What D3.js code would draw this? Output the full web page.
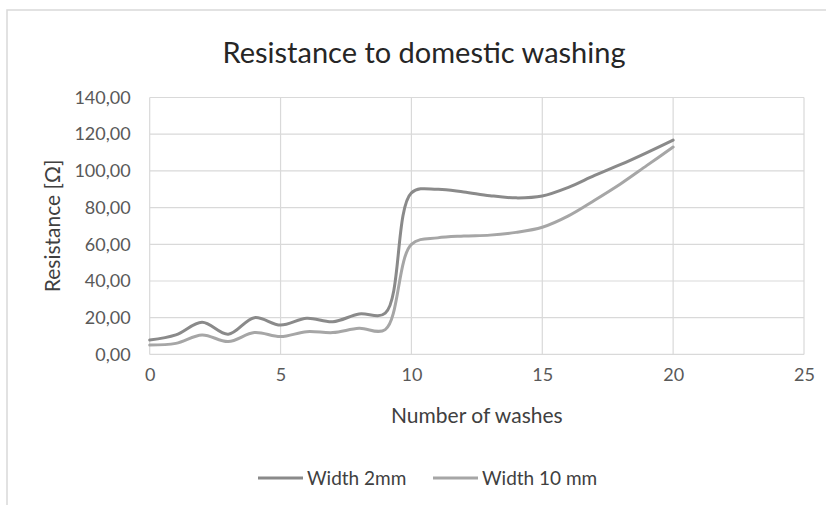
<!DOCTYPE html>
<html>
<head>
<meta charset="utf-8">
<script src="https://cdn.jsdelivr.net/npm/d3@7"></script>
<style>
  body { margin: 0; background: #fff; }
  svg { display: block; font-family: Lato, "Open Sans", sans-serif; }
</style>
</head>
<body>
<svg id="chart" width="826" height="505"></svg>
<script>
// values
const washes = [0, 1, 2, 3, 4, 5, 6, 7, 8, 9, 10, 11, 12, 13, 14, 15, 16, 17, 18, 19, 20];
const width2mm = [7.8, 10.6, 17.5, 11, 20, 16, 19.7, 17.8, 22, 22.5, 88, 90, 88.5, 86.5, 85.3, 86.3, 91, 97.5, 103.5, 110, 116.8];
const width10mm = [5.1, 6, 10.6, 7, 11.9, 9.7, 12.4, 11.9, 14.2, 13.5, 60, 63.5, 64.5, 65, 66.5, 69.3, 75.5, 84, 93, 103, 113];
const xTicks = [0, 5, 10, 15, 20, 25];
const yTicks = [0, 20, 40, 60, 80, 100, 120, 140];

const series = [
  { name: "Width 2mm", values: width2mm, color: "#8a8a8a" },
  { name: "Width 10 mm", values: width10mm, color: "#a6a6a6" }
];

const svg = d3.select("#chart");
const margin = { top: 97.5, right: 22, bottom: 150.6, left: 149.7 };
const W = +svg.attr("width"), H = +svg.attr("height");

// chart frame
svg.append("rect")
  .attr("x", 7).attr("y", 10)
  .attr("width", W + 10).attr("height", H + 10)
  .attr("fill", "#fff").attr("stroke", "#d9d9d9").attr("stroke-width", 1.5);

const x = d3.scaleLinear().domain([0, 25]).range([margin.left, W - margin.right]);
const y = d3.scaleLinear().domain([0, 140]).range([H - margin.bottom, margin.top]);

// grid
svg.append("g")
  .selectAll("line.h")
  .data(yTicks)
  .join("line")
  .attr("x1", x(0)).attr("x2", x(25))
  .attr("y1", d => y(d)).attr("y2", d => y(d))
  .attr("stroke", "#d9d9d9").attr("stroke-width", 1.2);

svg.append("g")
  .selectAll("line.v")
  .data(xTicks)
  .join("line")
  .attr("x1", d => x(d)).attr("x2", d => x(d))
  .attr("y1", y(0)).attr("y2", y(140))
  .attr("stroke", "#d9d9d9").attr("stroke-width", 1.2);

// axes
const fmt = d => d.toFixed(2).replace(".", ",");
const yAxis = svg.append("g")
  .attr("transform", `translate(${x(0)},0)`)
  .call(d3.axisLeft(y).tickValues(yTicks).tickFormat(fmt).tickSize(0).tickPadding(19));
const xAxis = svg.append("g")
  .attr("transform", `translate(0,${y(0)})`)
  .call(d3.axisBottom(x).tickValues(xTicks).tickFormat(d3.format("d")).tickSize(0).tickPadding(14));
[yAxis, xAxis].forEach(a => {
  a.select(".domain").remove();
  a.selectAll("text").attr("fill", "#595959").style("font-size", "18px").style("font-family", "Lato");
});

// lines
const line = d3.line()
  .x((d, i) => x(washes[i]))
  .y(d => y(d))
  .curve(d3.curveCatmullRom.alpha(0.5));

svg.append("g")
  .selectAll("path")
  .data(series)
  .join("path")
  .attr("d", d => line(d.values))
  .attr("fill", "none")
  .attr("stroke", d => d.color)
  .attr("stroke-width", 3)
  .attr("stroke-linecap", "round");

// titles
svg.append("text")
  .attr("x", 424).attr("y", 63)
  .attr("text-anchor", "middle")
  .attr("fill", "#262626")
  .style("font-size", "29px")
  .text("Resistance to domestic washing");

svg.append("text")
  .attr("x", (x(0) + x(25)) / 2).attr("y", 423)
  .attr("text-anchor", "middle")
  .attr("fill", "#404040")
  .style("font-size", "21px")
  .text("Number of washes");

svg.append("text")
  .attr("transform", `translate(60,${(y(0) + y(140)) / 2}) rotate(-90)`)
  .attr("text-anchor", "middle")
  .attr("fill", "#404040")
  .style("font-size", "21px")
  .text("Resistance [Ω]");

// legend
const legend = svg.append("g");
const legendX = [258, 433];
series.forEach((s, i) => {
  const g = legend.append("g").attr("transform", `translate(${legendX[i]},478)`);
  g.append("line")
    .attr("x1", 0).attr("x2", 45)
    .attr("stroke", s.color).attr("stroke-width", 3);
  g.append("text")
    .attr("x", 49).attr("y", 7)
    .attr("fill", "#404040")
    .style("font-size", "19px")
    .text(s.name);
});
</script>
</body>
</html>
